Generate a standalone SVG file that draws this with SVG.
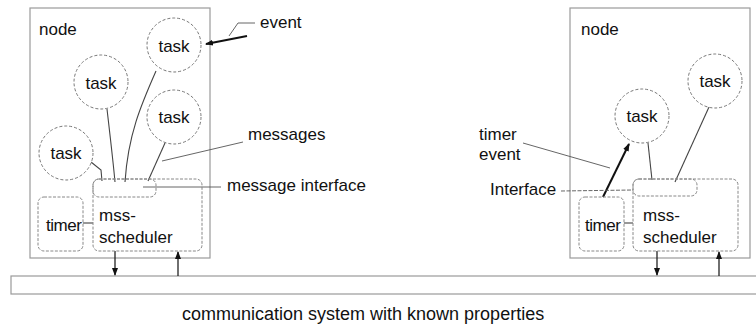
<svg xmlns="http://www.w3.org/2000/svg" width="756" height="327" viewBox="0 0 756 327">
<defs>
<style>
.box{fill:none;stroke:#9a9a9a;stroke-width:1.2}
.task{fill:#fff;stroke:#777;stroke-width:1;stroke-dasharray:3 2}
.inner{fill:none;stroke:#888;stroke-width:1;stroke-dasharray:3 1.5}
.t{font-family:"Liberation Sans",Arial,sans-serif;font-size:17px;fill:#111}
.c{text-anchor:middle}
.ln{fill:none;stroke:#444;stroke-width:1.1}
.lead{fill:none;stroke:#555;stroke-width:0.9}
.thick{fill:none;stroke:#111;stroke-width:2}
.arr{fill:none;stroke:#222;stroke-width:1.3}
</style>
<marker id="ah" markerWidth="8" markerHeight="8" refX="7" refY="4" orient="auto" markerUnits="userSpaceOnUse"><path d="M0,1 L8,4 L0,7 z" fill="#111"/></marker>
</defs>
<rect width="756" height="327" fill="#fff"/>

<g id="bus">
<rect class="box" x="11" y="276" width="760" height="18"/>
</g>

<g id="node-left">
<rect class="box" x="30" y="8" width="180" height="250"/>
<text class="t" x="39" y="35">node</text>
</g>
<g id="node-right">
<rect class="box" x="570" y="8" width="180" height="250"/>
<text class="t" x="581" y="35">node</text>
</g>

<g id="connectors">
<path class="ln" d="M156,71 C141,105 128,135 125,182"/>
<path class="ln" d="M107,109 C110,135 113,160 115,182"/>
<path class="ln" d="M165,143 L148,181"/>
<path class="ln" d="M91,162 L101,170 L102,181"/>
<path class="ln" d="M648,143 L652,180"/>
<path class="ln" d="M709,107 L675,182"/>
<path class="ln" d="M83,223 L93,223"/>
<path class="ln" d="M624,223 L633,223"/>
<path class="thick" d="M247,36 L206,44" marker-end="url(#ah)"/>
<path class="thick" d="M603,197 L629,144" marker-end="url(#ah)"/>
<path class="arr" d="M115,251 L115,275" marker-end="url(#ah)"/>
<path class="arr" d="M178,276 L178,252" marker-end="url(#ah)"/>
<path class="arr" d="M657,251 L657,275" marker-end="url(#ah)"/>
<path class="arr" d="M719,276 L719,252" marker-end="url(#ah)"/>
<path class="lead" d="M255,23 L238,23 L229,36"/>
<path class="lead" d="M162,161 L243,142"/>
<path class="lead" d="M143,187 L221,187"/>
<path class="lead" d="M523,143 L610,168"/>
<path class="lead" d="M561,191 L633,190" stroke-dasharray="4 1.5"/>
</g>

<g id="task-l1"><circle class="task" cx="174" cy="45" r="27"/><text class="t c" x="174" y="52">task</text></g>
<g id="task-l2"><circle class="task" cx="101" cy="82" r="27"/><text class="t c" x="101" y="89">task</text></g>
<g id="task-l3"><circle class="task" cx="174" cy="117" r="27"/><text class="t c" x="174" y="123">task</text></g>
<g id="task-l4"><circle class="task" cx="66" cy="153" r="27"/><text class="t c" x="66" y="159">task</text></g>
<g id="task-r1"><circle class="task" cx="642" cy="116" r="27"/><text class="t c" x="642" y="122">task</text></g>
<g id="task-r2"><circle class="task" cx="715" cy="81" r="27"/><text class="t c" x="715" y="87">task</text></g>

<g id="scheduler-left">
<rect class="inner" x="93" y="179" width="109" height="72" rx="6"/>
<text class="t" x="99" y="221">mss-</text>
<text class="t" x="99" y="243">scheduler</text>
</g>
<g id="interface-left">
<rect class="inner" x="93" y="179" width="63" height="18" rx="6"/>
</g>
<g id="timer-left">
<rect class="inner" x="38" y="197" width="45" height="54" rx="6"/>
<text class="t" x="46" y="231" textLength="36">timer</text>
</g>
<g id="scheduler-right">
<rect class="inner" x="633" y="179" width="105" height="72" rx="6"/>
<text class="t" x="643" y="221">mss-</text>
<text class="t" x="643" y="243">scheduler</text>
</g>
<g id="interface-right">
<rect class="inner" x="633" y="179" width="64" height="17" rx="6"/>
</g>
<g id="timer-right">
<rect class="inner" x="579" y="197" width="45" height="54" rx="6"/>
<text class="t" x="585" y="231" textLength="36">timer</text>
</g>

<g id="labels">
<text class="t" x="260" y="28">event</text>
<text class="t" x="248" y="140">messages</text>
<text class="t" x="227" y="191">message interface</text>
<text class="t" x="479" y="140">timer</text>
<text class="t" x="479" y="160">event</text>
<text class="t" x="490" y="195">Interface</text>
<text class="t" x="182" y="320" style="font-size:18px">communication system with known properties</text>
</g>
</svg>
